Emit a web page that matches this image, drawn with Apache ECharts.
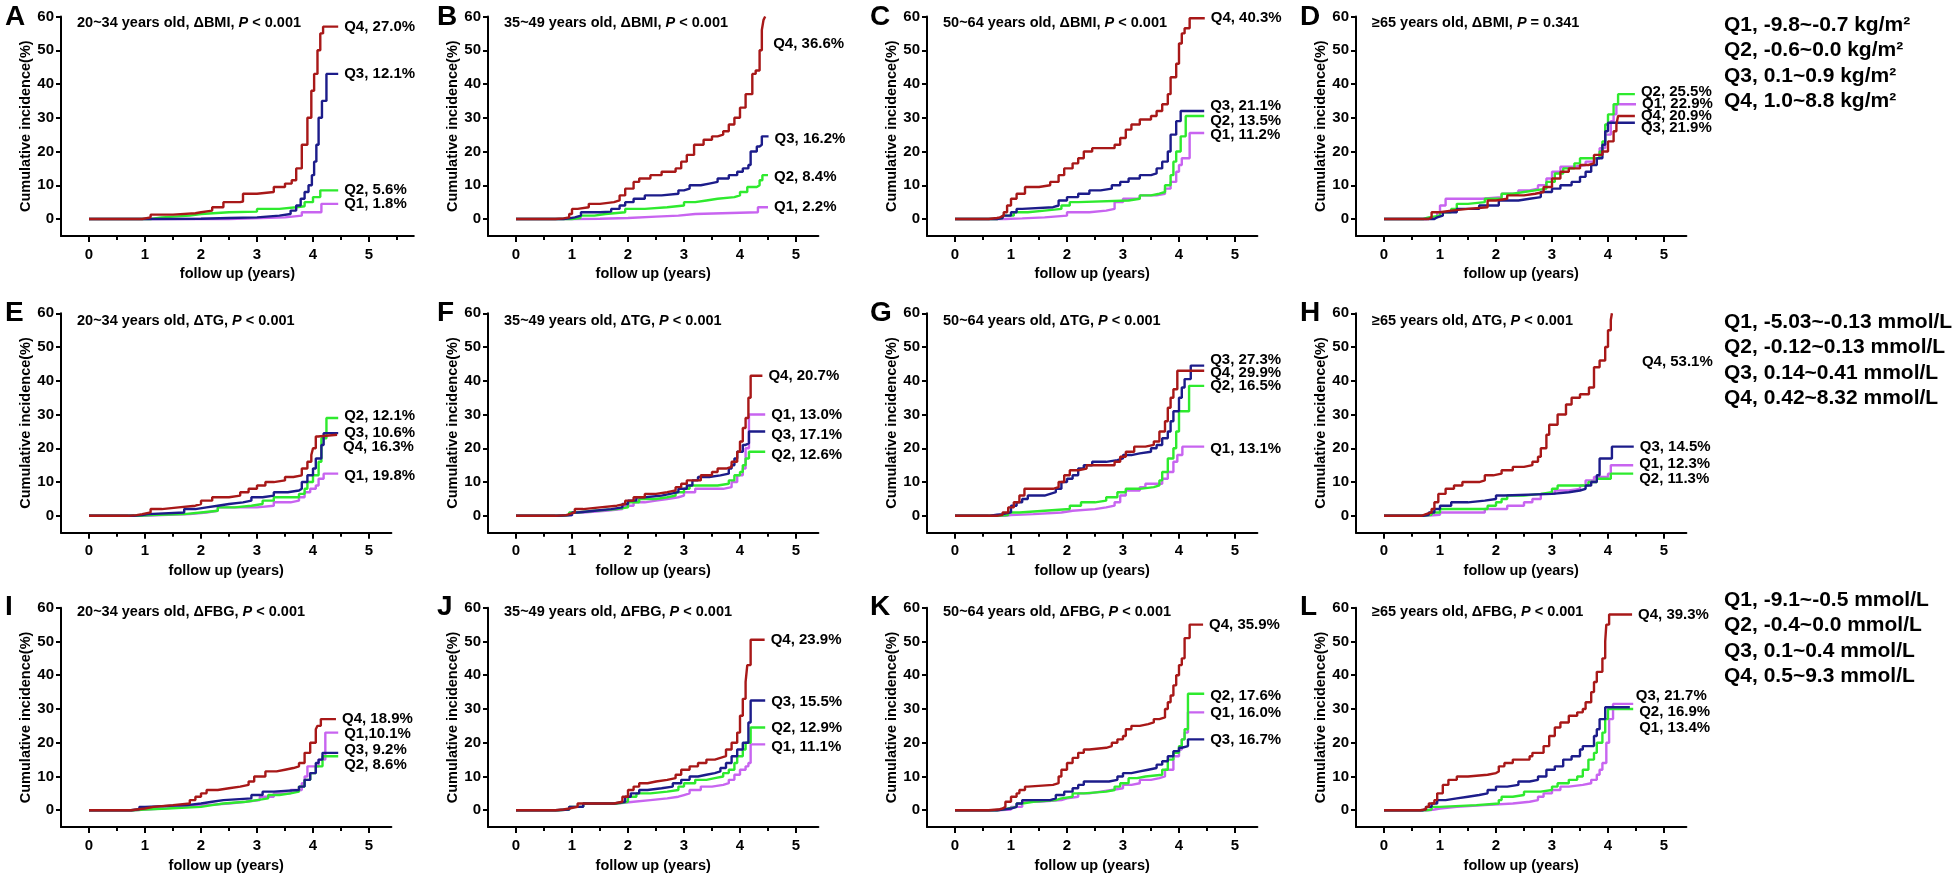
<!DOCTYPE html>
<html>
<head>
<meta charset="utf-8">
<script src="https://cdn.jsdelivr.net/npm/echarts@6/dist/echarts.min.js"></script>
<style>
html,body{margin:0;padding:0;background:#fff;}
#chart{width:1959px;height:878px;}
</style>
</head>
<body>
<div id="chart"></div>
<script>
// ---------------- DATA (time in years, cumulative incidence %) ----------------
// Panel A: 20~34, ΔBMI
const aQ1 = [[0,0],[2.5,0.5],[3.5,1],[3.8,2],[4.15,4.5],[4.45,4.5]];
const aQ2 = [[0,0],[1.1,0.5],[1.3,1],[1.8,1.5],[2.0,2],[2.5,2.2],[3.0,3],[3.4,3.5],[3.7,3.8],[3.85,5],[4.0,6.5],[4.13,8.5],[4.45,8.5]];
const aQ3 = [[0,0],[1.0,0.1],[2.0,0.3],[2.5,0.5],[3.0,1],[3.4,1.5],[3.6,2.5],[3.7,4],[3.78,6],[3.85,8],[3.92,10],[3.98,13],[4.02,17],[4.06,22],[4.1,30],[4.16,35],[4.24,43],[4.45,43]];
const aQ4 = [[0,0],[0.95,0.5],[1.1,1.3],[1.5,1.7],[1.9,2],[2.0,2.5],[2.2,3.5],[2.4,5],[2.7,5.2],[2.75,7.5],[3.0,8],[3.3,9.5],[3.5,10.5],[3.62,11.5],[3.7,15],[3.8,22],[3.9,30],[3.97,38],[4.02,43],[4.08,50],[4.13,55],[4.18,57],[4.45,57]];
const aLabels = ['Q1, 1.8%','Q2, 5.6%','Q3, 12.1%','Q4, 27.0%'];
// Panel B: 35~49, ΔBMI
const bQ1 = [[0,0],[1.0,0.1],[1.5,0.3],[2.0,0.7],[2.5,1],[2.9,1.5],[3.2,2],[4.32,3.5],[4.5,3.5]];
const bQ2 = [[0,0],[1.0,0.3],[1.15,1],[1.4,1.5],[1.6,2],[1.95,3],[2.3,3.5],[2.7,4],[3.0,5],[3.2,5.5],[3.4,6],[3.6,6.5],[3.9,7],[4.0,8],[4.13,9.5],[4.3,10],[4.35,11.5],[4.4,13],[4.5,13]];
const bQ3 = [[0,0],[0.85,0.2],[0.95,0.5],[1.05,1],[1.16,2],[1.5,2.2],[1.7,3],[1.85,4],[1.95,5],[2.1,6],[2.3,7],[2.6,7.5],[2.9,8.5],[3.0,9],[3.1,10],[3.3,10.5],[3.45,11],[3.6,12],[3.8,13],[3.95,14],[4.05,15],[4.15,16],[4.19,20],[4.3,21.5],[4.35,22],[4.39,24.5],[4.51,24.5]];
const bQ4 = [[0,0],[0.7,0.2],[0.85,0.5],[0.95,1.5],[1.0,3],[1.1,3.5],[1.3,4.5],[1.5,5],[1.75,5.5],[1.85,7],[1.95,9],[2.1,11],[2.2,12],[2.4,13],[2.6,14],[2.85,15],[2.95,17],[3.05,19],[3.18,22],[3.35,23.5],[3.5,24.5],[3.6,25],[3.7,26],[3.8,28],[3.9,30],[4.0,33],[4.1,37],[4.22,43],[4.28,44],[4.35,50],[4.39,56],[4.42,59],[4.45,60]];
const bLabels = ['Q1, 2.2%','Q2, 8.4%','Q3, 16.2%','Q4, 36.6%'];
// Panel C: 50~64, ΔBMI
const cQ1 = [[0,0],[0.9,0.2],[1.2,0.5],[1.6,1],[2.0,2],[2.4,2.5],[2.7,3],[2.85,5],[3.0,6],[3.3,7],[3.6,7.5],[3.75,9],[3.85,11],[3.95,14],[4.0,16],[4.05,18],[4.19,25.5],[4.45,25.5]];
const cQ2 = [[0,0],[0.75,0.3],[0.85,1],[1.05,2],[1.3,2.5],[1.6,3],[1.9,4],[2.05,5],[2.2,5.5],[3.1,6],[3.3,7],[3.5,7.5],[3.65,8],[3.75,10],[3.85,13],[3.9,17],[3.95,20],[4.03,24.5],[4.12,30.5],[4.45,30.5]];
const cQ3 = [[0,0],[0.75,0.3],[0.85,1],[1.0,2],[1.1,3],[1.2,3.5],[1.75,4],[1.85,5.5],[2.0,6.5],[2.2,7.5],[2.4,8.5],[2.6,9],[2.8,10],[2.95,11],[3.1,12],[3.3,13],[3.5,13.5],[3.6,15],[3.7,17],[3.8,20],[3.85,25],[3.95,29],[4.03,32],[4.45,32]];
const cQ4 = [[0,0],[0.6,0.3],[0.75,0.5],[0.8,1],[0.87,2],[0.93,4],[1.0,6],[1.1,7.5],[1.25,9.5],[1.5,10],[1.7,11],[1.85,13],[1.95,15],[2.1,16.5],[2.2,18],[2.3,20],[2.45,21],[2.85,22],[2.95,24],[3.05,26.5],[3.15,28],[3.3,29.5],[3.5,30.5],[3.6,32],[3.7,34],[3.8,37],[3.85,42],[3.95,46],[4.0,52],[4.05,55],[4.1,56.5],[4.19,59.5],[4.46,59.5]];
const cLabels = ['Q1, 11.2%','Q2, 13.5%','Q3, 21.1%','Q4, 40.3%'];
// Panel D: >=65, ΔBMI
const dQ1 = [[0,0],[0.75,0.5],[0.95,2],[1.0,4],[1.1,6],[1.75,6.5],[2.1,7.5],[2.4,8.5],[2.6,9],[2.75,10],[2.9,12],[3.0,14],[3.15,15.5],[3.4,16],[3.6,17],[3.75,18],[3.85,21],[3.95,25],[4.05,29],[4.1,31],[4.15,34],[4.5,34]];
const dQ2 = [[0,0],[0.7,0.5],[0.8,1],[1.0,2],[1.2,3],[1.3,4.5],[1.5,5],[1.8,6],[2.1,7.5],[2.3,8],[2.5,8.5],[2.7,9],[2.9,11],[3.05,13.5],[3.2,15],[3.4,16.5],[3.5,18],[3.85,20],[3.9,23],[3.95,28],[4.0,31],[4.1,34],[4.18,37],[4.48,37]];
const dQ3 = [[0,0],[0.9,0.5],[0.95,1],[1.05,2],[1.3,3],[1.7,4],[2.05,5.5],[2.4,6],[2.6,6.5],[2.8,8],[3.0,9],[3.15,10],[3.35,11],[3.5,12.5],[3.6,14],[3.7,16],[3.8,18],[3.9,22],[3.95,26],[4.0,28.5],[4.48,28.5]];
const dQ4 = [[0,0],[0.8,0.5],[0.85,2],[1.0,2.5],[1.2,3],[1.5,3.5],[1.85,5.5],[2.0,6],[2.2,7],[2.5,7.5],[2.7,8],[2.85,9.5],[3.0,12],[3.15,14],[3.3,15],[3.5,16],[3.65,16.5],[3.75,19],[3.9,20],[4.0,23],[4.1,26],[4.15,28],[4.18,30.5],[4.48,30.5]];
const dLabels = ['Q1, 22.9%','Q2, 25.5%','Q3, 21.9%','Q4, 20.9%'];
// Panel E: 20~34, ΔTG
const eQ1 = [[0,0],[1.0,0.2],[1.3,0.5],[1.8,1],[2.1,1.5],[2.3,2.5],[3.0,3],[3.3,4],[3.6,4.5],[3.75,5.5],[3.85,7],[3.95,8],[4.05,9],[4.1,11],[4.19,12.5],[4.45,12.5]];
const eQ2 = [[0,0],[0.9,0.2],[1.1,0.5],[1.7,1],[2.0,1.5],[2.3,2.5],[2.6,3],[2.9,3.5],[3.1,4.5],[3.3,5.5],[3.75,6.5],[3.85,8],[3.9,10],[4.0,12],[4.1,16],[4.15,23],[4.24,29],[4.45,29]];
const eQ3 = [[0,0],[0.8,0.2],[0.95,0.5],[1.05,1],[1.7,2],[1.9,2.5],[2.1,3],[2.3,3.5],[2.5,4],[2.75,4.5],[2.9,5.5],[3.1,6],[3.3,7],[3.55,7.5],[3.75,8],[3.8,10],[3.9,12],[4.0,14],[4.05,17],[4.15,21],[4.19,24.5],[4.45,24.5]];
const eQ4 = [[0,0],[0.7,0.2],[0.85,0.5],[0.95,1],[1.1,2],[1.3,2.5],[1.6,3],[1.9,3.5],[2.0,4.5],[2.2,5.5],[2.5,6],[2.7,7],[2.85,8],[3.0,9],[3.15,10],[3.3,10.5],[3.5,11.5],[3.65,12],[3.8,14],[3.9,16],[3.97,18],[4.0,20],[4.05,23.5],[4.09,24],[4.43,24]];
const eLabels = ['Q1, 19.8%','Q2, 12.1%','Q3, 10.6%','Q4, 16.3%'];
// Panel F: 35~49, ΔTG
const fQ1 = [[0,0],[0.75,0.2],[1.0,1],[1.2,1.5],[1.6,2],[1.9,3],[2.1,4],[2.3,4.5],[2.5,5],[2.7,5.5],[2.9,6],[3.0,7],[3.2,8],[3.7,8.5],[3.85,10],[3.95,12],[4.05,14],[4.1,20],[4.16,30],[4.45,30]];
const fQ2 = [[0,0],[0.8,0.2],[0.95,1],[1.1,1.5],[1.4,2],[1.8,2.5],[2.0,4],[2.2,5],[2.5,5.5],[2.7,6],[2.85,7],[3.0,8],[3.1,9],[3.6,9.5],[3.8,10.5],[3.9,12],[4.0,13],[4.05,15],[4.1,17],[4.16,19],[4.45,19]];
const fQ3 = [[0,0],[0.75,0.2],[1.0,1],[1.1,1.5],[1.4,2],[1.7,2.5],[1.9,3.5],[2.0,4.5],[2.15,5.5],[2.3,6],[2.6,6.5],[2.75,7],[2.9,8],[3.05,9],[3.15,10.5],[3.25,11.5],[3.45,12],[3.65,12.5],[3.8,14],[3.85,15],[3.9,17],[3.95,19],[4.05,21],[4.1,21.5],[4.16,25],[4.45,25]];
const fQ4 = [[0,0],[0.7,0.2],[0.9,0.5],[0.95,1],[1.05,2],[1.2,2.5],[1.5,3],[1.8,3.5],[1.95,4.5],[2.1,5.5],[2.3,6.5],[2.5,7],[2.7,7.5],[2.85,8.5],[2.95,9.5],[3.05,10.5],[3.3,12],[3.5,13],[3.6,14],[3.75,14.5],[3.85,16],[3.95,19],[4.0,22],[4.05,26],[4.1,29],[4.15,35],[4.19,41.5],[4.4,41.5]];
const fLabels = ['Q1, 13.0%','Q2, 12.6%','Q3, 17.1%','Q4, 20.7%'];
// Panel G: 50~64, ΔTG
const gQ1 = [[0,0],[0.9,0.2],[1.0,0.5],[1.4,1],[1.9,1.5],[2.1,2],[2.5,2.5],[2.7,3],[2.85,4],[2.95,6],[3.05,7.5],[3.3,8.5],[3.4,9.5],[3.7,11],[3.8,13],[3.9,16],[3.97,18],[4.06,20.5],[4.45,20.5]];
const gQ2 = [[0,0],[0.75,0.2],[0.95,1],[1.15,1.5],[1.6,2],[2.05,3],[2.25,4],[2.5,4.5],[2.7,5.5],[2.9,7],[3.05,8],[3.3,8.5],[3.55,9],[3.65,10.5],[3.7,13],[3.8,17],[3.9,20],[3.95,25],[4.0,31],[4.18,38.5],[4.45,38.5]];
const gQ3 = [[0,0],[0.6,0.3],[0.75,0.5],[0.85,1],[1.0,3],[1.1,4],[1.2,5],[1.3,6],[1.6,6.5],[1.7,7],[1.8,8],[1.9,10],[2.0,11],[2.1,12],[2.2,14],[2.3,15],[2.45,16],[2.7,16.5],[2.9,17],[3.0,18],[3.15,18.5],[3.3,19],[3.5,20],[3.6,21],[3.7,23],[3.8,25],[3.85,28],[3.9,31],[4.0,35],[4.05,38],[4.1,40.5],[4.21,44.5],[4.45,44.5]];
const gQ4 = [[0,0],[0.75,0.3],[0.85,1],[0.95,2.5],[1.05,4],[1.15,6],[1.24,8],[1.75,8.5],[1.85,10],[1.95,12],[2.05,13.5],[2.2,14],[2.35,15],[2.85,16],[2.95,17.5],[3.05,19],[3.2,20.5],[3.4,21],[3.55,22],[3.65,25],[3.75,28],[3.8,32],[3.85,35],[3.9,37.5],[3.97,43],[4.45,43]];
const gLabels = ['Q1, 13.1%','Q2, 16.5%','Q3, 27.3%','Q4, 29.9%'];
// Panel H: >=65, ΔTG
const hQ1 = [[0,0],[0.75,0.3],[1.0,1],[1.8,2],[2.2,3],[2.5,4],[2.65,5],[2.8,6.5],[3.05,7.5],[3.3,8],[3.5,9],[3.6,10.5],[3.75,11.5],[4.0,12.5],[4.05,15],[4.45,15]];
const hQ2 = [[0,0],[0.7,0.3],[0.85,1],[1.0,2],[1.85,3],[2.0,4],[2.1,5],[2.2,6],[2.5,6.5],[2.8,7],[3.0,8],[3.1,9],[3.65,10],[3.8,11],[4.05,12.5],[4.45,12.5]];
const hQ3 = [[0,0],[0.7,0.3],[0.8,1],[0.9,2],[1.0,3],[1.2,4],[1.5,4.5],[1.8,5],[2.0,6],[2.15,6.5],[3.0,7],[3.3,7.5],[3.5,8],[3.6,9],[3.7,10],[3.8,12],[3.85,17],[4.07,20.5],[4.46,20.5]];
const hQ4 = [[0,0],[0.67,0.5],[0.75,1],[0.85,2],[0.9,4],[0.97,6.5],[1.1,8],[1.25,9],[1.4,10],[1.7,10.5],[1.8,12],[1.95,12.5],[2.1,13.5],[2.3,14.5],[2.5,15],[2.65,16],[2.75,17.5],[2.8,20],[2.9,24],[2.95,27],[3.1,30],[3.25,33],[3.35,35],[3.5,36],[3.66,38],[3.75,44],[3.85,46],[3.95,50],[4.0,55],[4.05,58],[4.07,60]];
const hLabels = ['Q1, 12.3%','Q2, 11.3%','Q3, 14.5%','Q4, 53.1%'];
// Panel I: 20~34, ΔFBG
const iQ1 = [[0,0],[0.8,0.2],[1.0,0.5],[1.3,1],[1.7,1.5],[2.1,2],[2.5,2.5],[2.8,3],[3.05,4],[3.3,5],[3.6,6],[3.8,8],[3.85,10],[3.9,13],[4.1,15],[4.22,23],[4.45,23]];
const iQ2 = [[0,0],[0.8,0.2],[1.0,0.5],[1.4,1],[2.0,1.5],[2.2,2],[2.4,2.5],[2.8,3],[3.0,3.5],[3.2,4.5],[3.4,5],[3.6,5.5],[3.75,7],[3.85,9],[3.95,11],[4.05,13],[4.17,16],[4.45,16]];
const iQ3 = [[0,0],[0.75,0.3],[0.9,1],[1.0,1.5],[1.75,2],[2.0,2.5],[2.2,3],[2.4,3.5],[2.9,4.5],[3.1,5.5],[3.3,6],[3.75,7],[3.85,9],[3.95,11],[4.05,14],[4.1,15],[4.17,17],[4.45,17]];
const iQ4 = [[0,0],[0.75,0.2],[0.85,0.5],[1.0,1],[1.15,1.5],[1.5,2],[1.8,3],[1.9,4],[2.0,5],[2.1,6],[2.3,6.5],[2.5,7],[2.7,7.5],[2.85,8.5],[2.95,10],[3.15,11.5],[3.35,12],[3.5,12.5],[3.65,13],[3.75,14],[3.85,17],[3.95,20],[4.05,24],[4.08,25],[4.14,27],[4.41,27]];
const iLabels = ['Q1,10.1%','Q2, 8.6%','Q3, 9.2%','Q4, 18.9%'];
// Panel J: 35~49, ΔFBG
const jQ1 = [[0,0],[0.75,0.2],[0.95,1],[1.2,2],[1.8,2.5],[2.1,3],[2.4,3.5],[2.7,4],[2.9,4.5],[3.0,5],[3.1,6],[3.3,7],[3.5,7.5],[3.7,8],[3.8,9],[3.9,10.5],[4.0,12],[4.1,13],[4.15,14],[4.19,19.5],[4.45,19.5]];
const jQ2 = [[0,0],[0.75,0.2],[0.95,1],[1.2,2],[1.8,2.5],[2.0,4],[2.15,5],[2.4,5.5],[2.7,6],[2.9,7],[3.0,8],[3.2,9],[3.4,9.5],[3.55,10],[3.7,11],[3.8,12],[3.9,14],[3.95,16],[4.05,18],[4.1,20],[4.19,24.5],[4.45,24.5]];
const jQ3 = [[0,0],[0.7,0.2],[0.95,1],[1.2,2],[1.75,2.5],[1.95,4],[2.05,5],[2.2,6],[2.35,6.5],[2.6,7],[2.8,8],[2.95,9],[3.1,10],[3.25,10.5],[3.4,11],[3.55,11.5],[3.65,12.5],[3.75,14],[3.85,16],[3.95,18],[4.05,20],[4.15,26],[4.19,32.5],[4.45,32.5]];
const jQ4 = [[0,0],[0.7,0.2],[0.85,0.5],[0.95,1],[1.1,2],[1.75,2.5],[1.9,4],[2.0,6],[2.1,7],[2.2,8],[2.35,8.5],[2.5,9],[2.7,9.5],[2.85,10.5],[2.95,12],[3.1,13],[3.25,14],[3.4,15],[3.55,15.5],[3.65,16],[3.75,18],[3.85,20],[3.95,23],[4.0,28],[4.05,33],[4.1,38],[4.13,43],[4.19,50.5],[4.44,50.5]];
const jLabels = ['Q1, 11.1%','Q2, 12.9%','Q3, 15.5%','Q4, 23.9%'];
// Panel K: 50~64, ΔFBG
const kQ1 = [[0,0],[0.75,0.2],[1.0,1],[1.2,2.5],[1.5,3],[1.9,3.5],[2.0,4],[2.2,5],[2.4,5.5],[2.6,6],[2.8,6.5],[3.0,7.5],[3.15,8],[3.3,9],[3.5,9.5],[3.65,10],[3.75,12],[3.9,16],[4.0,18],[4.05,21],[4.1,23],[4.16,29],[4.45,29]];
const kQ2 = [[0,0],[0.75,0.2],[0.85,0.5],[0.95,1],[1.1,2],[1.2,2.5],[1.4,3],[1.8,3.5],[1.9,4],[2.1,5],[2.3,5.5],[2.7,6],[2.85,7],[2.95,8],[3.1,9.5],[3.25,10],[3.4,10.5],[3.7,12],[3.8,15],[3.9,17],[4.0,19],[4.05,21],[4.1,24],[4.16,34.5],[4.45,34.5]];
const kQ3 = [[0,0],[0.75,0.2],[0.85,0.5],[1.0,1],[1.1,2],[1.2,3],[1.7,3.5],[1.8,4.5],[1.95,5.5],[2.1,6.5],[2.2,7.5],[2.3,8.5],[2.75,9],[2.9,10],[3.0,11],[3.15,11.5],[3.3,12],[3.45,12.5],[3.6,13.5],[3.7,14.5],[3.8,16],[3.9,17.5],[4.0,18.5],[4.05,19],[4.16,21],[4.45,21]];
const kQ4 = [[0,0],[0.6,0.3],[0.8,0.5],[0.85,1],[0.9,2.5],[1.0,4],[1.1,5],[1.15,6],[1.25,7],[1.3,7.5],[1.75,8],[1.85,10],[1.9,12],[2.0,14],[2.1,15.5],[2.2,17],[2.3,18],[2.4,18.5],[2.7,19],[2.8,20],[2.9,21],[3.0,22],[3.05,24],[3.15,25],[3.3,25.5],[3.45,26],[3.55,27],[3.65,27.5],[3.75,30],[3.8,32],[3.85,34],[3.9,37],[3.95,40],[4.0,43],[4.05,45],[4.1,51],[4.19,55],[4.43,55]];
const kLabels = ['Q1, 16.0%','Q2, 17.6%','Q3, 16.7%','Q4, 35.9%'];
// Panel L: >=65, ΔFBG
const lQ1 = [[0,0],[0.8,0.2],[0.9,0.5],[1.0,1],[1.3,1.5],[1.8,2],[2.3,2.5],[2.6,3],[2.75,4],[2.85,5],[3.0,6],[3.15,7],[3.3,7.5],[3.55,8],[3.7,9],[3.8,10.5],[3.85,12],[3.9,14],[3.97,20],[4.02,27],[4.09,31.5],[4.45,31.5]];
const lQ2 = [[0,0],[0.75,0.2],[0.85,1],[1.0,1.5],[1.65,2],[2.05,3],[2.1,4],[2.3,4.5],[2.5,5.5],[2.8,6],[3.0,7],[3.1,8],[3.3,9],[3.45,10],[3.55,12],[3.65,15],[3.75,17],[3.8,20],[3.9,23],[3.95,27],[4.0,30],[4.45,30]];
const lQ3 = [[0,0],[0.7,0.3],[0.75,1],[0.85,2],[0.95,3],[1.1,3.5],[1.3,4],[1.5,4.5],[1.7,5],[1.85,6],[2.0,7],[2.2,7.5],[2.4,8.5],[2.6,9],[2.75,10],[2.9,12],[3.05,13],[3.2,15],[3.35,16],[3.5,18],[3.55,19],[3.75,22],[3.8,24],[3.85,27],[3.95,30.5],[4.39,30.5]];
const lQ4 = [[0,0],[0.65,0.3],[0.75,1],[0.8,2],[0.9,3],[0.95,5],[1.05,7.5],[1.15,9],[1.3,10],[1.5,10.5],[1.85,11],[2.0,11.5],[2.05,13],[2.15,14],[2.3,15],[2.6,16],[2.65,17],[2.85,19],[2.95,22],[3.05,24.5],[3.15,26],[3.3,28],[3.45,29],[3.55,30],[3.6,32],[3.7,35],[3.75,38],[3.8,41],[3.9,45],[3.95,50],[3.97,55],[4.02,58],[4.43,58]];
const lLabels = ['Q1, 13.4%','Q2, 16.9%','Q3, 21.7%','Q4, 39.3%'];

// Panel titles
const panelLetters = ['A','B','C','D','E','F','G','H','I','J','K','L'];
const panelTitles = [
  '20~34 years old, ΔBMI, ', '35~49 years old, ΔBMI, ', '50~64 years old, ΔBMI, ', '≥65 years old, ΔBMI, ',
  '20~34 years old, ΔTG, ', '35~49 years old, ΔTG, ', '50~64 years old, ΔTG, ', '≥65 years old, ΔTG, ',
  '20~34 years old, ΔFBG, ', '35~49 years old, ΔFBG, ', '50~64 years old, ΔFBG, ', '≥65 years old, ΔFBG, '
];
const pValues = ['< 0.001','< 0.001','< 0.001','= 0.341','< 0.001','< 0.001','< 0.001','< 0.001','< 0.001','< 0.001','< 0.001','< 0.001'];

// Quartile range legends (one per row)
const bmiRanges = ['Q1, -9.8~-0.7 kg/m²','Q2, -0.6~0.0 kg/m²','Q3, 0.1~0.9 kg/m²','Q4, 1.0~8.8 kg/m²'];
const tgRanges  = ['Q1, -5.03~-0.13 mmol/L','Q2, -0.12~0.13 mmol/L','Q3, 0.14~0.41 mmol/L','Q4, 0.42~8.32 mmol/L'];
const fbgRanges = ['Q1, -9.1~-0.5 mmol/L','Q2, -0.4~0.0 mmol/L','Q3, 0.1~0.4 mmol/L','Q4, 0.5~9.3 mmol/L'];

// Axis tick values
const yTicks = [0,10,20,30,40,50,60];
const xTicks = [0,1,2,3,4,5];
const xMinorTicks = [0.5,1.5,2.5,3.5,4.5,5.5];
const xName = 'follow up (years)';
const yName = 'Cumulative incidence(%)';

// ---------------- LAYOUT / STYLE ----------------
const FONT = "'Liberation Sans', Arial, Helvetica, sans-serif";
const COLORS = ['#C864F0', '#2EEA2E', '#1C1C8A', '#A81818']; // Q1..Q4
const colX = [61, 488, 927, 1356];
const rowY = [16.5, 313.3, 607.7];
const titleDy = [6.5, 7.5, 4];
const letterX = [5, 437, 870, 1300];
const letterCapTop = [7, 303, 597];
const PX_PER_YEAR = 56;
const GRID_H = 219.4;
const XMIN = -0.5;
const LABEL_GAP = 6;

const panelSeries = [
  [aQ1,aQ2,aQ3,aQ4],[bQ1,bQ2,bQ3,bQ4],[cQ1,cQ2,cQ3,cQ4],[dQ1,dQ2,dQ3,dQ4],
  [eQ1,eQ2,eQ3,eQ4],[fQ1,fQ2,fQ3,fQ4],[gQ1,gQ2,gQ3,gQ4],[hQ1,hQ2,hQ3,hQ4],
  [iQ1,iQ2,iQ3,iQ4],[jQ1,jQ2,jQ3,jQ4],[kQ1,kQ2,kQ3,kQ4],[lQ1,lQ2,lQ3,lQ4]
];
const panelLabels = [aLabels,bLabels,cLabels,dLabels,eLabels,fLabels,gLabels,hLabels,iLabels,jLabels,kLabels,lLabels];
// end-label pixel offsets [dx,dy] for Q1..Q4 (style only)
const labelOffsets = [
  [[0,0],[0,0],[0,0],[0,0]],
  [[0,0],[0,2],[0,3],[2,27]],
  [[0,2],[0,5],[0,-5],[0,0]],
  [[0,0],[0,-2],[0,5],[0,0]],
  [[0,2],[0,-2],[0,0],[0,12]],
  [[0,0],[0,3],[0,3],[0,0]],
  [[0,2],[0,0],[0,-6],[0,2]],
  [[0,-1],[0,5],[0,0],[24,49]],
  [[0,1],[0,9],[0,-3],[0,0]],
  [[0,2],[0,0],[0,1],[0,0]],
  [[0,1],[0,2],[0,1],[0,0]],
  [[0,24],[0,3],[0,-11],[0,0]]
];
const panelXMax = [5.8,5.4,5.4,5.4,5.4,5.4,5.4,5.4,5.4,5.4,5.4,5.4];

const grids = [], xAxes = [], yAxes = [], series = [], graphics = [];
for (let i = 0; i < 12; i++) {
  const col = i % 4, row = Math.floor(i / 4);
  const xMax = panelXMax[i];
  grids.push({left: colX[col], top: rowY[row], width: (xMax - XMIN) * PX_PER_YEAR, height: GRID_H});
  xAxes.push({
    type: 'value', gridIndex: i, min: XMIN, max: xMax, position: 'bottom',
    axisLine: {show: true, onZero: false, lineStyle: {color: '#000', width: 2}},
    axisTick: {show: true, length: 6, lineStyle: {color: '#000', width: 2}, customValues: xTicks},
    axisLabel: {show: true, customValues: xTicks, margin: 11, color: '#000', fontSize: 15, fontWeight: 'bold', fontFamily: FONT},
    splitLine: {show: false},
    name: xName, nameLocation: 'middle', nameGap: 31,
    nameTextStyle: {color: '#000', fontSize: 14.5, fontWeight: 'bold', fontFamily: FONT}
  });
  xAxes.push({
    type: 'value', gridIndex: i, min: XMIN, max: xMax, position: 'bottom',
    axisLine: {show: false, onZero: false},
    axisTick: {show: true, length: 4, lineStyle: {color: '#000', width: 2}, customValues: xMinorTicks.filter(v => v <= xMax)},
    axisLabel: {show: false},
    splitLine: {show: false}
  });
  yAxes.push({
    type: 'value', gridIndex: i, min: -5, max: 60, position: 'left',
    axisLine: {show: true, onZero: false, lineStyle: {color: '#000', width: 2}},
    axisTick: {show: true, length: 5, lineStyle: {color: '#000', width: 2}, customValues: yTicks},
    axisLabel: {show: true, customValues: yTicks, margin: 7, color: '#000', fontSize: 15, fontWeight: 'bold', fontFamily: FONT},
    splitLine: {show: false},
    name: yName, nameLocation: 'middle', nameGap: 27,
    nameTextStyle: {color: '#000', fontSize: 14.5, fontWeight: 'bold', fontFamily: FONT}
  });
  panelSeries[i].forEach((data, q) => {
    series.push({
      type: 'line', step: 'end', xAxisIndex: 2 * i, yAxisIndex: i,
      data: data, showSymbol: false, symbol: 'none', silent: true, clip: false,
      lineStyle: {color: COLORS[q], width: 2.4},
      itemStyle: {color: COLORS[q]},
      emphasis: {disabled: true},
      z: 2 + q
    });
  });
  // panel letter
  graphics.push({
    type: 'text', x: letterX[col], y: letterCapTop[row] + 10,
    style: {text: panelLetters[i], fill: '#000', fontSize: 28, fontWeight: 'bold', fontFamily: FONT, verticalAlign: 'middle', align: 'left'}
  });
  // panel title with italic P
  graphics.push({
    type: 'text', x: colX[col] + 16, y: rowY[row] + titleDy[row],
    style: {
      text: panelTitles[i] + '{i|P} ' + pValues[i],
      fill: '#000', fontSize: 14.5, fontWeight: 'bold', fontFamily: FONT, verticalAlign: 'middle', align: 'left',
      rich: {i: {fontStyle: 'italic', fontWeight: 'bold', fontSize: 14.5, fontFamily: FONT, fill: '#000'}}
    }
  });
}

// right-side quartile legends
const legendRows = [bmiRanges, tgRanges, fbgRanges];
const legendTop = [25, 322, 600];
const legendStep = 25.5;
legendRows.forEach((rows, r) => {
  rows.forEach((txt, k) => {
    graphics.push({
      type: 'text', x: 1724, y: legendTop[r] + k * legendStep,
      style: {text: txt, fill: '#000', fontSize: 21, fontWeight: 'bold', fontFamily: FONT, verticalAlign: 'middle', align: 'left'}
    });
  });
});

const chart = echarts.init(document.getElementById('chart'), null, {renderer: 'canvas', width: 1959, height: 878});
chart.setOption({
  backgroundColor: '#ffffff',
  animation: false,
  grid: grids,
  xAxis: xAxes,
  yAxis: yAxes,
  series: series
});

// end labels: anchored at each curve's last point through the library's scales
let sIdx = 0;
for (let i = 0; i < 12; i++) {
  panelSeries[i].forEach((data, q) => {
    const last = data[data.length - 1];
    const px = chart.convertToPixel({seriesIndex: sIdx}, last);
    const off = labelOffsets[i][q];
    graphics.push({
      type: 'text', x: px[0] + LABEL_GAP + off[0], y: px[1] + off[1], z: 100,
      style: {text: panelLabels[i][q], fill: '#000', fontSize: 15, fontWeight: 'bold', fontFamily: FONT, verticalAlign: 'middle', align: 'left'}
    });
    sIdx++;
  });
}
chart.setOption({graphic: graphics});
</script>
</body>
</html>
